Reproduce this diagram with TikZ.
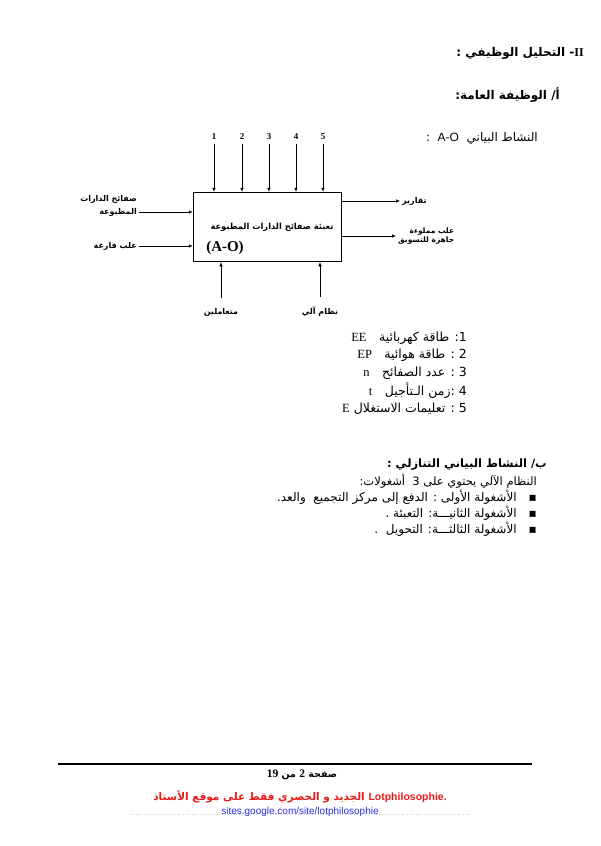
\documentclass[tikz,border=0pt]{standalone}
\usepackage{fontspec}
\setmainfont{Liberation Serif}
\setsansfont{Liberation Sans}
\newfontfamily\arabicfont[Script=Arabic]{DejaVu Sans}
\TeXXeTstate=1
\usetikzlibrary{arrows.meta, positioning}
\definecolor{footred}{RGB}{235,25,25}
\definecolor{linkblue}{RGB}{45,45,235}
\newcommand{\ar}[1]{{\arabicfont\beginR #1\endR}}
\newcommand{\lat}[1]{\beginL#1\endL{}}

\begin{document}
\begin{tikzpicture}[
    x=1pt, y=-1pt,
    head/.style={font=\arabicfont\bfseries\fontsize{12}{14}\selectfont, inner sep=0pt},
    body/.style={font=\arabicfont\fontsize{11.5}{13}\selectfont, inner sep=0pt},
    item/.style={font=\arabicfont\fontsize{12}{13}\selectfont, inner sep=0pt, anchor=east},
    legend/.style={font=\arabicfont\fontsize{12.5}{14}\selectfont, inner sep=0pt, anchor=east},
    lbl/.style={font=\arabicfont\bfseries\fontsize{8}{10}\selectfont, inner sep=2pt},
    num/.style={font=\rmfamily\bfseries\fontsize{9}{10}\selectfont, inner sep=0pt, outer sep=4pt},
    box/.style={draw, line width=1.5pt, minimum width=148pt, minimum height=69pt, inner sep=0pt},
    arr/.style={-{Latex[length=4pt, width=3.5pt]}, line width=0.5pt}
]
\useasboundingbox (0,0) rectangle (600,846);

% titles
\node[head, anchor=east] (part) at (584,53) {\ar{\lat{{\rmfamily II}}- التحليل الوظيفي :}};
\node[head, anchor=east] (general) at (560,95) {\ar{أ/ الوظيفة العامة:}};
\node[body, font=\arabicfont\fontsize{12}{13}\selectfont, anchor=east] (actname) at (538,138) {\ar{النشاط البياني \ \lat{{\sffamily A-O}} \ :}};

% A-O box
\node[box] (ao) at (267.5,227) {};
\node[lbl, font=\arabicfont\bfseries\fontsize{8.3}{10}\selectfont] (task) at (272,227) {\ar{تعبئة صفائح الدارات المطبوعة}};
\node[font=\rmfamily\bfseries\fontsize{15}{16}\selectfont, inner sep=0pt] (aoname) at (225,248) {(A-O)};

% control inputs
\foreach \i/\x in {1/214, 2/242, 3/269, 4/296, 5/323} {
    \node[num] (n\i) at (\x,137) {\i};
    \draw[arr] (n\i.south) -- (n\i.south |- ao.north);
}

% inputs
\node[lbl, anchor=east] (pcbtop) at (139,199) {\ar{صفائح الدارات}};
\node[lbl, anchor=east] (pcb) at (139,212) {\ar{المطبوعة}};
\node[lbl, anchor=east] (empty) at (139,246) {\ar{علب فارغة}};
\draw[arr] (pcb) -- (pcb -| ao.west);
\draw[arr] (empty) -- (empty -| ao.west);

% outputs
\node[lbl, anchor=west] (report) at (400,201) {\ar{تقارير}};
\node[lbl, anchor=west, align=right, font=\arabicfont\bfseries\fontsize{7.5}{9.5}\selectfont] (full) at (396,236) {\ar{علب مملوءة}\\\ar{جاهزة للتسويق}};
\draw[arr] (report -| ao.east) -- (report);
\draw[arr] (full -| ao.east) -- (full);

% mechanisms
\node[lbl] (staff) at (221,312) {\ar{متعاملين}};
\node[lbl] (auto) at (320,312) {\ar{نظام آلي}};
\draw[arr, shorten <=8pt] (staff) -- (staff |- ao.south);
\draw[arr, shorten <=8pt] (auto) -- (auto |- ao.south);

% legend
\node[legend] (leg1) at (467,338) {\ar{1: طاقة كهربائية\quad\lat{{\rmfamily EE}}}};
\node[legend] (leg2) at (467,355) {\ar{2 : طاقة هوائية\quad\lat{{\rmfamily EP}}}};
\node[legend] (leg3) at (467,373) {\ar{3 : عدد الصفائح\quad\lat{{\rmfamily n}}}};
\node[legend] (leg4) at (467,391) {\ar{4 :زمن الـتأجيل\quad\lat{{\rmfamily t}}}};
\node[legend] (leg5) at (467,409) {\ar{5 : تعليمات الاستغلال\ \lat{{\rmfamily E}}}};

% descending activity
\node[head, font=\arabicfont\bfseries\fontsize{11.5}{13}\selectfont, anchor=east] (desc) at (547,465) {\ar{ب/ النشاط البياني التنازلي :}};
\node[body, anchor=east] (intro) at (537,481) {\ar{النظام الآلي يحتوي على 3 \ أشغولات:}};
\node[item] (task1) at (537,497) {\ar{▪\quad الأشغولة الأولى : الدفع إلى مركز التجميع \ والعد.}};
\node[item] (task2) at (537,513) {\ar{▪\quad الأشغولة الثانيـــة: التعبئة .}};
\node[item] (task3) at (537,529) {\ar{▪\quad الأشغولة الثالثـــة: التحويل \ .}};

% footer
\draw[line width=1.2pt] (58,764) -- (532,764);
\draw[gray!40, line width=0.8pt, dotted] (130,814) -- (470,814);
\node[font=\arabicfont\bfseries\fontsize{9.5}{12}\selectfont, inner sep=0pt] (page) at (302,775) {\ar{صفحة \lat{{\rmfamily\fontsize{11.5}{12}\selectfont 2}} من \lat{{\rmfamily\fontsize{11.5}{12}\selectfont 19}}}};
\node[font=\arabicfont\bfseries\fontsize{10.5}{12}\selectfont, text=footred, inner sep=0pt] (site) at (300,797) {\ar{الجديد و الحصري فقط على موقع الأستاذ}\ {\sffamily\bfseries Lotphilosophie.}};
\node[font=\sffamily\fontsize{10}{11}\selectfont, text=linkblue, inner sep=0pt] (url) at (300,812) {sites.google.com/site/lotphilosophie};
\end{tikzpicture}
\end{document}
